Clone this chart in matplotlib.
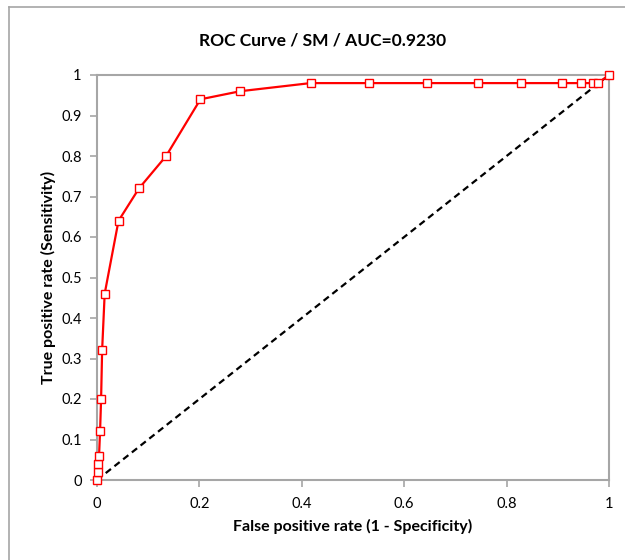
import numpy as np
import matplotlib.pyplot as plt
from matplotlib.lines import Line2D

# ROC points
fpr = [0.0, 0.001, 0.001, 0.004, 0.006, 0.008, 0.010, 0.015, 0.042, 0.082, 0.135, 0.202, 0.280,
       0.417, 0.532, 0.645, 0.745, 0.828, 0.908, 0.945, 0.969, 0.979, 1.0]
tpr = [0.0, 0.02, 0.04, 0.06, 0.12, 0.20, 0.32, 0.46, 0.64, 0.72, 0.80, 0.94, 0.96,
       0.98, 0.98, 0.98, 0.98, 0.98, 0.98, 0.98, 0.98, 0.98, 1.0]
diag = [0, 1]
xticks = [0, 0.2, 0.4, 0.6, 0.8, 1]
yticks = [0, 0.1, 0.2, 0.3, 0.4, 0.5, 0.6, 0.7, 0.8, 0.9, 1]
title = 'ROC Curve / SM / AUC=0.9230'

plt.rcParams['font.family'] = ['Lato', 'DejaVu Sans']
grey = '#a6a6a6'

fig = plt.figure(figsize=(6.25, 5.6), dpi=100)
ax = fig.add_axes([97/625, 1 - 480/560, 512/625, 405/560])

# outer chart border (only left and top visible)
fig.add_artist(Line2D([9/625, 9/625], [0, 1 - 7/560], color=grey, lw=1.2, transform=fig.transFigure))
fig.add_artist(Line2D([9/625, 1], [1 - 7/560, 1 - 7/560], color=grey, lw=1.2, transform=fig.transFigure))

ax.plot(diag, diag, color='black', lw=1.6, ls=(0, (3, 2)), zorder=2)
ax.plot(fpr, tpr, color='#ff0000', lw=1.6, marker='s', markersize=5.5,
        markerfacecolor='white', markeredgecolor='#ff0000', markeredgewidth=1.0,
        clip_on=False, zorder=3)

ax.set_xlim(0, 1)
ax.set_ylim(0, 1)
ax.set_xticks(xticks)
ax.set_yticks(yticks)
ax.set_xticklabels(['0', '0.2', '0.4', '0.6', '0.8', '1'])
ax.set_yticklabels(['0', '0.1', '0.2', '0.3', '0.4', '0.5', '0.6', '0.7', '0.8', '0.9', '1'])
for s in ax.spines.values():
    s.set_color(grey)
    s.set_linewidth(1.5)
ax.tick_params(colors=grey, length=5, width=1.2, labelcolor='black', labelsize=10.5, direction='out')
ax.tick_params(axis='x', pad=7)
ax.tick_params(axis='y', pad=6)

ax.set_xlabel('False positive rate (1 - Specificity)', fontsize=11.5, fontweight='bold', labelpad=6)
ax.set_ylabel('True positive rate (Sensitivity)', fontsize=11.5, fontweight='bold', labelpad=4)
fig.text(323/625, 1 - 40/560, title, ha='center', va='center', fontsize=12.5, fontweight='bold')

fig.savefig('out.png', dpi=100)
